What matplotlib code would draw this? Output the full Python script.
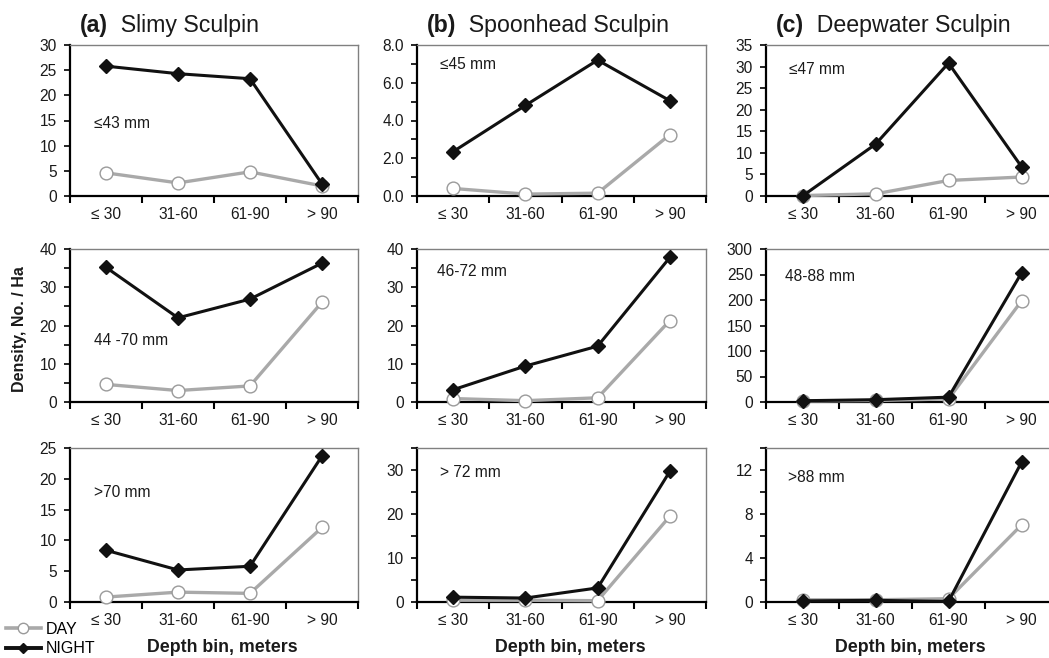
import matplotlib
matplotlib.use("Agg")
import matplotlib.pyplot as plt
from matplotlib.ticker import MultipleLocator, FormatStrFormatter
from matplotlib.lines import Line2D

plt.rcParams['font.family'] = ['Liberation Sans', 'DejaVu Sans']

categories = ["\u2264 30", "31-60", "61-90", "> 90"]

species = ["Slimy Sculpin", "Spoonhead Sculpin", "Deepwater Sculpin"]
panel_letters = ["(a)", "(b)", "(c)"]

# Slimy sculpin
slimy_small_day = [4.6, 2.6, 4.8, 2.0]
slimy_small_night = [25.8, 24.3, 23.3, 2.4]
slimy_mid_day = [4.6, 3.0, 4.2, 26.1]
slimy_mid_night = [35.2, 22.0, 26.9, 36.3]
slimy_large_day = [0.8, 1.6, 1.4, 12.1]
slimy_large_night = [8.4, 5.2, 5.8, 23.7]

# Spoonhead sculpin
spoon_small_day = [0.4, 0.1, 0.15, 3.25]
spoon_small_night = [2.35, 4.8, 7.2, 5.05]
spoon_mid_day = [0.9, 0.35, 1.1, 21.3]
spoon_mid_night = [3.2, 9.4, 14.6, 37.8]
spoon_large_day = [0.4, 0.4, 0.3, 19.5]
spoon_large_night = [1.1, 0.9, 3.2, 29.7]

# Deepwater sculpin
deep_small_day = [0.1, 0.5, 3.6, 4.4]
deep_small_night = [0.0, 12.0, 30.8, 6.8]
deep_mid_day = [2.0, 3.0, 6.0, 198.0]
deep_mid_night = [2.5, 4.5, 9.5, 253.0]
deep_large_day = [0.2, 0.2, 0.3, 7.0]
deep_large_night = [0.1, 0.15, 0.05, 12.7]

size_labels = [
    ["\u226443 mm", "\u226445 mm", "\u226447 mm"],
    ["44 -70 mm", "46-72 mm", "48-88 mm"],
    [">70 mm", "> 72 mm", ">88 mm"],
]

day_data = [
    [slimy_small_day, spoon_small_day, deep_small_day],
    [slimy_mid_day, spoon_mid_day, deep_mid_day],
    [slimy_large_day, spoon_large_day, deep_large_day],
]
night_data = [
    [slimy_small_night, spoon_small_night, deep_small_night],
    [slimy_mid_night, spoon_mid_night, deep_mid_night],
    [slimy_large_night, spoon_large_night, deep_large_night],
]

# (ymax, major, minor, fmt)
yscales = [
    [(30, 5, None, '%d'), (8, 2, 1, '%.1f'), (35, 5, None, '%d')],
    [(40, 10, 5, '%d'), (40, 10, 5, '%d'), (300, 50, None, '%d')],
    [(25, 5, None, '%d'), (35, 10, 5, '%d'), (14, 4, 2, '%d')],
]

# label positions in axes fraction
label_pos = [
    [(0.085, 0.48), (0.08, 0.87), (0.08, 0.84)],
    [(0.085, 0.40), (0.07, 0.85), (0.065, 0.82)],
    [(0.085, 0.71), (0.08, 0.84), (0.075, 0.81)],
]

W, H = 1049, 658
fig = plt.figure(figsize=(W / 100, H / 100), dpi=100)

col_x = [(70, 358), (417, 706), (766, 1058)]
row_y = [(45, 196), (249, 402), (448, 602)]

DAY_C = '#a9a9a9'
DAY_EDGE = '#9a9a9a'
TXT = '#1a1a1a'
x = [1, 2, 3, 4]
axes = [[None] * 3 for _ in range(3)]
for r in range(3):
    for c in range(3):
        x0, x1 = col_x[c]
        yt, yb = row_y[r]
        ax = fig.add_axes([x0 / W, (H - yb) / H, (x1 - x0) / W, (yb - yt) / H])
        axes[r][c] = ax
        ax.plot(x, day_data[r][c], color=DAY_C, lw=2.4, marker='o', ms=9.2,
                mfc='white', mec=DAY_EDGE, mew=1.0, clip_on=False, zorder=3)
        ax.plot(x, night_data[r][c], color='#111111', lw=2.2, marker='D', ms=6.8,
                mfc='#111111', mec='#111111', clip_on=False, zorder=4)
        ymax, major, minor, fmt = yscales[r][c]
        ax.set_ylim(0, ymax)
        ax.set_xlim(0.5, 4.5)
        ax.yaxis.set_major_locator(MultipleLocator(major))
        if minor:
            ax.yaxis.set_minor_locator(MultipleLocator(minor))
        ax.yaxis.set_major_formatter(FormatStrFormatter(fmt))
        ax.set_xticks([0.5, 1.5, 2.5, 3.5, 4.5])
        ax.set_xticklabels([])
        ax.set_xticks(x, minor=True)
        ax.set_xticklabels(categories, minor=True)
        ax.tick_params(axis='x', which='major', direction='out', length=5, width=1.5, color='black')
        ax.tick_params(axis='x', which='minor', length=0, pad=8, labelsize=11.2, labelcolor=TXT)
        ax.tick_params(axis='y', which='both', direction='out', length=4.5, width=1.2,
                       pad=5, labelsize=11.2, labelcolor=TXT)
        for s in ['left', 'bottom']:
            ax.spines[s].set_color('black')
            ax.spines[s].set_linewidth(1.6)
        for s in ['top', 'right']:
            ax.spines[s].set_color('#808080')
            ax.spines[s].set_linewidth(1.0)
        lx, ly = label_pos[r][c]
        ax.text(lx, ly, size_labels[r][c], transform=ax.transAxes, fontsize=11.2,
                ha='left', va='center', color=TXT)

# Titles
for c in range(3):
    ax = axes[0][c]
    t1 = ax.annotate(panel_letters[c], xy=(0.035, 1.0), xycoords='axes fraction',
                     xytext=(0, 9.5), textcoords='offset points', fontsize=16.7,
                     fontweight='bold', ha='left', va='baseline', color=TXT)
    ax.annotate("  " + species[c], xy=(1, 0), xycoords=t1, fontsize=16.7,
                ha='left', va='bottom', color=TXT)

# Axis labels
fig.text(20 / W, 1 - 329 / H, "Density, No. / Ha", rotation=90, fontsize=11.5,
         fontweight='bold', ha='center', va='center', color=TXT)
for c, xc in enumerate([222, 570, 910]):
    fig.text(xc / W, 1 - 647 / H, "Depth bin, meters", fontsize=12.8,
             fontweight='bold', ha='center', va='center', color=TXT)

# Legend
h_day = Line2D([], [], color=DAY_C, lw=2.6, marker='o', ms=7.5, mfc='white', mec=DAY_EDGE)
h_night = Line2D([], [], color='#111111', lw=2.8, marker='D', ms=5.5, mfc='#111111')
fig.legend([h_day, h_night], ["DAY", "NIGHT"], loc='lower left',
           bbox_to_anchor=(4 / W, 0.0), frameon=False, fontsize=11.5,
           handlelength=2.2, handletextpad=0.3, labelspacing=0.3,
           borderpad=0.1, borderaxespad=0.0)

fig.savefig("out.png", dpi=100)
